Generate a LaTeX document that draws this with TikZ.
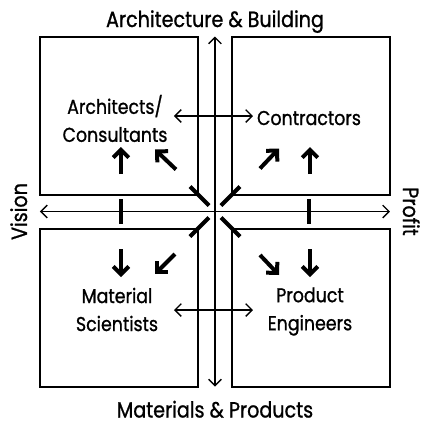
\documentclass[tikz,border=0pt]{standalone}
\usepackage{fontspec}
\setmainfont{Poppins}[FakeStretch=0.87, FakeBold=1]
\usetikzlibrary{arrows.meta}
\tikzset{
  x=1pt, y=1pt,
  every node/.style={font=\fontsize{22}{28}\selectfont},
  grp/.style={align=center, font=\fontsize{20}{28}\selectfont},
  quad/.style={draw, line width=2pt, minimum size=158pt, inner sep=0pt},
  axis/.style={line width=1.4pt, {Straight Barb[angle=90:9pt, sharp]}-{Straight Barb[angle=90:9pt, sharp]}},
  fat/.style={line width=4pt, -{Straight Barb[angle=90:11pt, sharp]}},
  bar/.style={line width=4pt}
}
\begin{document}
\begin{tikzpicture}
  \useasboundingbox (-215,-212.5) rectangle (207,211.5);
  % quadrants
  \node[quad] (tlbox) at (-96,96) {};
  \node[quad] (trbox) at (96,96) {};
  \node[quad] (blbox) at (-96,-96) {};
  \node[quad] (brbox) at (96,-96) {};
  % axes
  \coordinate (top) at (0,175);
  \coordinate (bottom) at (0,-175);
  \coordinate (left) at (-175,0);
  \coordinate (right) at (175,0);
  \draw[axis] (bottom) -- (top);
  \draw[axis] (left) -- (right);
  \node[anchor=base] (ab) at (0,184.5) {Architecture \& Building};
  \node[anchor=base, inner sep=0pt] (mp) at (0,-206) {Materials \& Products};
  \node[anchor=base, rotate=90] (vision) at (-188,0) {Vision};
  \node[anchor=base, rotate=-90] (profit) at (188,0) {Profit};
  \foreach \x in {-94,94}
    \draw[bar] (\x,12.5) -- (\x,-12.5);
  \foreach \sx/\sy in {1/1,1/-1,-1/1,-1/-1}
    \draw[bar] (\sx*6,\sy*6) -- (\sx*25,\sy*25);
  % groups
  \node[grp] (archcons) at (-100,93) {Architects/\\Consultants};
  \node[grp, anchor=base] (contr) at (94,86.5) {Contractors};
  \node[grp] (matsci) at (-98,-98) {Material\\Scientists};
  \node[grp] (prodeng) at (95,-100) {Product\\Engineers};
  \coordinate (tl) at (-41,95.5);
  \coordinate (tr) at (38,95.5);
  \coordinate (bl) at (-41,-98.5);
  \coordinate (br) at (38,-98.5);
  \draw[axis] (tl) -- (tr);
  \draw[axis] (bl) -- (br);
  % flows
  \draw[fat] (-94,37.5) -- (-94,64.5);
  \draw[fat] (-39,42) -- (-60,62);
  \draw[fat] (45,43) -- (64,63);
  \draw[fat] (95,37.5) -- (95,64.5);
  \draw[fat] (-94,-37.5) -- (-94,-65.5);
  \draw[fat] (-40,-42.5) -- (-60,-62.5);
  \draw[fat] (45,-43.5) -- (64,-63.5);
  \draw[fat] (95,-37.5) -- (95,-65.5);
\end{tikzpicture}
\end{document}
